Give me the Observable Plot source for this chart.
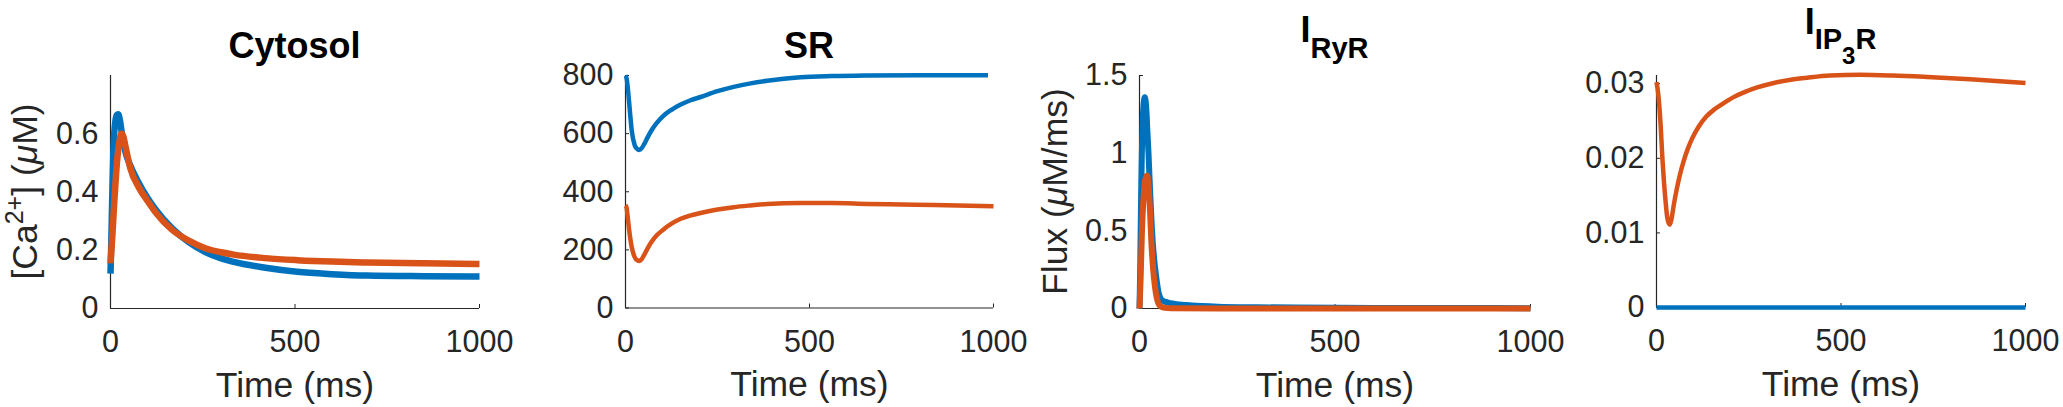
<!DOCTYPE html>
<html>
<head>
<meta charset="utf-8">
<script src="https://cdn.jsdelivr.net/npm/d3@7"></script>
<script src="https://cdn.jsdelivr.net/npm/@observablehq/plot@0.6"></script>
<style>
  body { margin: 0; background: #fff; }
  #fig { position: relative; width: 2063px; height: 407px; background: #fff; overflow: hidden; }
  #fig svg { position: absolute; top: 0; overflow: visible; }
</style>
</head>
<body>
<div id="fig"></div>
<script>
// ---------- data ----------
const xTicks = [0, 500, 1000];

// Cytosol [Ca2+] (uM)
const cytBlueT = [0, 2, 5, 8, 12, 17, 21, 25, 31, 40, 54, 77, 100, 122, 167, 212, 257, 300, 334, 420, 506, 600, 696, 850, 1000];
const cytBlueV = [0.12, 0.22, 0.40, 0.55, 0.63, 0.664, 0.667, 0.65, 0.60, 0.54, 0.49, 0.43, 0.38, 0.34, 0.275, 0.228, 0.194, 0.172, 0.16, 0.14, 0.126, 0.118, 0.113, 0.111, 0.11];
const cytOrangeT = [0, 5, 10, 15, 20, 25, 30, 35, 40, 54, 77, 100, 122, 167, 212, 257, 300, 334, 420, 506, 600, 696, 850, 1000];
const cytOrangeV = [0.155, 0.25, 0.36, 0.46, 0.535, 0.58, 0.60, 0.59, 0.56, 0.48, 0.415, 0.37, 0.33, 0.27, 0.233, 0.207, 0.193, 0.185, 0.173, 0.166, 0.161, 0.158, 0.155, 0.153];

// SR
const srBlueT = [0, 3, 6, 11, 17, 25, 31, 37, 44, 50, 60, 70, 85, 100, 125, 150, 175, 204, 250, 294, 340, 385, 430, 476, 560, 657, 800, 985];
const srBlueV = [800, 790, 760, 691, 610, 560, 548, 544, 550, 562, 587, 610, 637, 658, 682, 700, 714, 726, 746, 761, 773, 782, 789, 794, 798, 800, 801, 801];
const srOrangeT = [0, 3, 5, 10, 17, 25, 32, 38, 44, 50, 60, 70, 85, 100, 125, 150, 175, 204, 250, 294, 340, 385, 476, 560, 657, 750, 838, 1000];
const srOrangeV = [353, 345, 324, 267, 209, 175, 164, 162, 168, 181, 205, 226, 250, 267, 290, 307, 318, 327, 339, 347, 353, 358, 361, 361, 358, 356, 354, 350];

// I_RyR flux (uM/ms)
const ryrBlueT = [0, 2, 4, 6, 8, 10, 13.5, 17, 20, 23, 26, 30, 35, 40, 44, 49, 53, 60, 71, 90, 120, 160, 200, 300, 400, 600, 800, 1000];
const ryrBlueV = [0, 0.3, 0.7, 1.0, 1.2, 1.3, 1.36, 1.3, 1.15, 1.0, 0.82, 0.6, 0.39, 0.26, 0.18, 0.1, 0.07, 0.05, 0.04, 0.03, 0.022, 0.016, 0.012, 0.008, 0.006, 0.004, 0.003, 0.002];
const ryrOrangeT = [0, 2.7, 6.3, 10, 14, 19, 23, 27, 30.5, 35, 39.6, 44, 48, 55, 65, 80, 200, 1000];
const ryrOrangeV = [0, 0.18, 0.5, 0.7, 0.82, 0.856, 0.8, 0.62, 0.42, 0.25, 0.14, 0.07, 0.035, 0.012, 0.004, 0.002, 0.0005, 0.0002];

// I_IP3R
const ip3BlueT = [0, 1000];
const ip3BlueV = [0, 0];
const ip3OrangeT = [0, 5, 11, 16, 20, 25, 29, 33, 36, 40, 47, 55, 63, 74, 85, 97, 115, 135, 158, 182, 209, 240, 273, 318, 360, 408, 470, 553, 640, 734, 850, 1000];
const ip3OrangeV = [0.0302, 0.0285, 0.0246, 0.0200, 0.0170, 0.0140, 0.0121, 0.0113, 0.0111, 0.0117, 0.0138, 0.0159, 0.0177, 0.0197, 0.0213, 0.0227, 0.0243, 0.0256, 0.0266, 0.0274, 0.0282, 0.0289, 0.0295, 0.0301, 0.0305, 0.0308, 0.0311, 0.0312, 0.0311, 0.0309, 0.0306, 0.0301];

const BLUE = "#0072BD", ORANGE = "#D95319", AXIS = "#262626";
const FONT = "'Liberation Sans', Arial, Helvetica, sans-serif";
const LABEL_SIZE = 35.5, TICK_SIZE = 30.5;

function rows(t, v) { return t.map((d, i) => ({t: d, v: v[i]})); }

const panels = [
  {left: 0, width: 520, mL: 110, mR: 41, mB: 99, yDomain: [0, 0.8], yTicks: [0, 0.2, 0.4, 0.6], lw: 6.5,
   blue: rows(cytBlueT, cytBlueV), orange: rows(cytOrangeT, cytOrangeV), title: "cyt", ylabel: "ca"},
  {left: 520, width: 520, mL: 105, mR: 47, mB: 99.5, yDomain: [0, 800], yTicks: [0, 200, 400, 600, 800], lw: 4.5,
   blue: rows(srBlueT, srBlueV), orange: rows(srOrangeT, srOrangeV), title: "sr"},
  {left: 1040, width: 520, mL: 99, mR: 30, mB: 99, yDomain: [0, 1.5], yTicks: [0, 0.5, 1, 1.5], lw: 6,
   blue: rows(ryrBlueT, ryrBlueV), orange: rows(ryrOrangeT, ryrOrangeV), title: "ryr", ylabel: "flux"},
  {left: 1560, width: 503, mL: 96, mR: 38, mB: 100, yDomain: [0, 0.0311], yTicks: [0, 0.01, 0.02, 0.03], lw: 4.5,
   blue: rows(ip3BlueT, ip3BlueV), orange: rows(ip3OrangeT, ip3OrangeV), title: "ip3"}
];

const fig = document.getElementById("fig");
const H = 407, MT = 75;

for (const p of panels) {
  const fw = p.width - p.mL - p.mR;
  const fh = H - MT - p.mB;
  const chart = Plot.plot({
    width: p.width, height: H,
    marginLeft: p.mL, marginRight: p.mR, marginTop: MT, marginBottom: p.mB,
    style: {fontFamily: FONT, fontSize: TICK_SIZE + "px", color: AXIS, background: "transparent", overflow: "visible"},
    x: {domain: [0, 1000]},
    y: {domain: p.yDomain},
    marks: [
      Plot.tickX(xTicks, {x: d => d, stroke: AXIS, strokeWidth: 1, insetTop: fh - 4}),
      Plot.tickY(p.yTicks, {y: d => d, stroke: AXIS, strokeWidth: 1, insetRight: fw - 4}),
      Plot.ruleX([0], {stroke: AXIS, strokeWidth: 1.2}),
      Plot.ruleY([0], {stroke: AXIS, strokeWidth: 1.2}),
      Plot.axisX({ticks: xTicks, tickSize: 0, tickPadding: 22, label: null, tickFormat: d => String(d), fontSize: TICK_SIZE}),
      Plot.axisY({ticks: p.yTicks, tickSize: 0, tickPadding: 12, label: null, tickFormat: d => String(d), fontSize: TICK_SIZE}),
      Plot.text(["Time (ms)"], {frameAnchor: "bottom", dy: 77, lineAnchor: "middle", fontSize: LABEL_SIZE, fill: AXIS}),
      Plot.line(p.blue, {x: "t", y: "v", stroke: BLUE, strokeWidth: p.lw, curve: "monotone-x", strokeLinecap: "butt"}),
      Plot.line(p.orange, {x: "t", y: "v", stroke: ORANGE, strokeWidth: p.lw, curve: "monotone-x", strokeLinecap: "butt"})
    ]
  });
  chart.style.left = p.left + "px";
  fig.appendChild(chart);

  const svg = d3.select(chart);
  const cx = p.mL + fw / 2;
  // title
  const t = svg.append("text").attr("text-anchor", "middle").attr("x", cx)
    .attr("font-family", FONT).attr("font-weight", "bold").attr("fill", "#000");
  if (p.title === "cyt") { t.attr("y", 58).attr("font-size", 36).text("Cytosol"); }
  else if (p.title === "sr") { t.attr("y", 58).attr("font-size", 36).text("SR"); }
  else if (p.title === "ryr") {
    t.attr("y", 42).attr("font-size", 36);
    t.append("tspan").text("I");
    t.append("tspan").attr("font-size", 29).attr("dy", 16).text("RyR");
  } else if (p.title === "ip3") {
    t.attr("y", 34).attr("font-size", 36);
    t.append("tspan").text("I");
    t.append("tspan").attr("font-size", 29).attr("dy", 15).text("IP");
    t.append("tspan").attr("font-size", 24).attr("dy", 15).text("3");
    t.append("tspan").attr("font-size", 29).attr("dy", -15).text("R");
  }
  // y label
  if (p.ylabel) {
    const bx = p.ylabel === "ca" ? 37 : 27;
    const yl = svg.append("text").attr("text-anchor", "middle")
      .attr("transform", `translate(${bx},${MT + fh / 2}) rotate(-90)`)
      .attr("font-family", FONT).attr("font-size", LABEL_SIZE).attr("fill", AXIS);
    if (p.ylabel === "ca") {
      yl.append("tspan").text("[Ca");
      yl.append("tspan").attr("font-size", 25).attr("dy", -14).text("2+");
      yl.append("tspan").attr("dy", 14).text("] (");
      yl.append("tspan").attr("font-style", "italic").text("\u03bc");
      yl.append("tspan").text("M)");
    } else {
      yl.append("tspan").text("Flux (");
      yl.append("tspan").attr("font-style", "italic").text("\u03bc");
      yl.append("tspan").text("M/ms)");
    }
  }
}
</script>
</body>
</html>
